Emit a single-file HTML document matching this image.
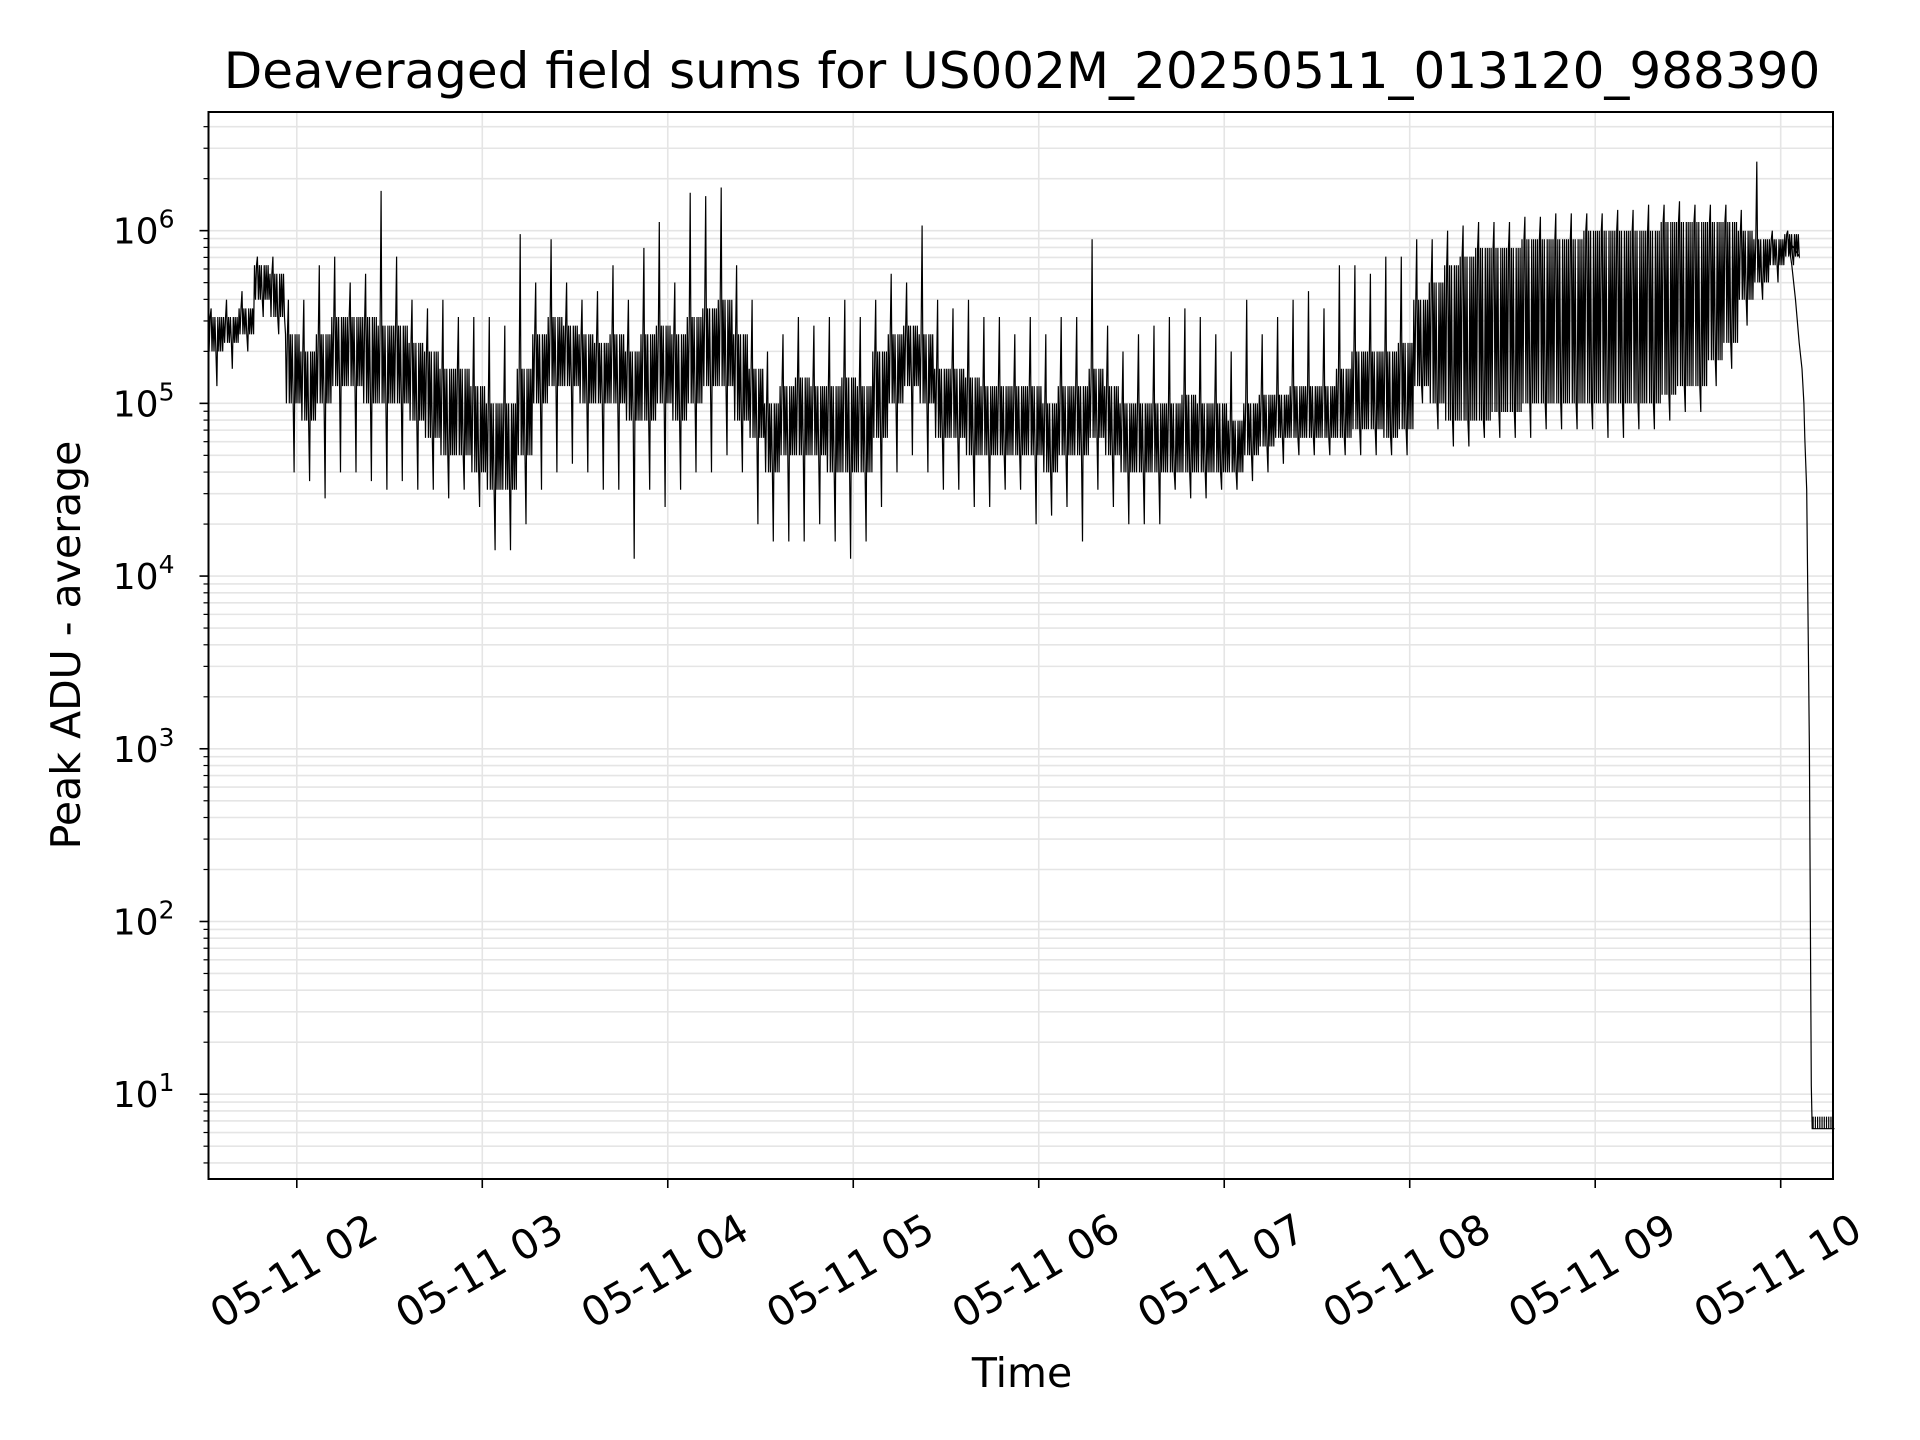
<!DOCTYPE html>
<html><head><meta charset="utf-8">
<style>html,body{margin:0;padding:0;background:#fff}svg{display:block}text{font-family:"DejaVu Sans","Liberation Sans",sans-serif;fill:#000}</style>
</head><body>
<svg id="chart" width="1920" height="1440" viewBox="0 0 1920 1440" xmlns="http://www.w3.org/2000/svg">
<rect x="0" y="0" width="1920" height="1440" fill="#fff"/>
<g id="grid"></g>
<g id="series"></g>
<rect x="208.5" y="112" width="1624.5" height="1067" fill="none" stroke="#000" stroke-width="2"/>
<g id="axes"></g>
<text x="1022" y="88" font-size="50" text-anchor="middle">Deaveraged field sums for US002M_20250511_013120_988390</text>
<text x="0" y="0" font-size="41" text-anchor="middle" transform="translate(80,645) rotate(-90)">Peak ADU - average</text>
<text x="1022" y="1387" font-size="41" text-anchor="middle">Time</text>
</svg>
<script>
// data (log10 values)
const binStart = 1.5222; // hours
const binHours = 1/12;
const spikeMax = [5.55,5.6,5.65,5.85,5.85,5.6,
5.6,5.8,5.85,5.7,5.75,6.23,5.85,5.6,5.55,5.6,5.5,5.5,
5.5,5.45,5.98,5.7,5.95,5.7,5.6,5.65,5.8,5.6,5.9,6.05,
5.7,6.22,6.2,6.25,5.8,5.6,5.3,5.4,5.5,5.45,5.5,5.6,
5.5,5.6,5.75,5.7,6.03,5.6,5.55,5.6,5.5,5.5,5.4,5.5,
5.4,5.5,5.5,5.95,5.45,5.3,5.4,5.45,5.5,5.55,5.5,5.4,
5.3,5.6,5.4,5.5,5.6,5.65,5.55,5.8,5.8,5.75,5.85,5.85,
5.95,5.95,6.0,6.03,6.05,6.05,6.05,6.08,6.08,6.1,6.1,6.1,
6.1,6.12,6.12,6.15,6.15,6.17,6.15,6.15,6.15,6.12,6.4,6.0,6.0];
const bandTop = [5.5,5.5,5.55,5.8,5.75,5.4,
5.3,5.4,5.5,5.5,5.5,5.45,5.45,5.35,5.3,5.2,5.2,5.1,
5.0,5.0,5.2,5.4,5.5,5.45,5.4,5.35,5.4,5.3,5.4,5.45,
5.4,5.5,5.55,5.6,5.4,5.2,5.0,5.1,5.15,5.1,5.1,5.15,
5.1,5.3,5.4,5.45,5.4,5.2,5.2,5.15,5.1,5.1,5.1,5.1,
5.0,5.1,5.1,5.2,5.1,5.0,5.0,5.0,5.0,5.05,5.0,5.0,
4.9,5.0,5.05,5.05,5.1,5.1,5.1,5.2,5.3,5.3,5.3,5.35,
5.6,5.7,5.8,5.85,5.9,5.9,5.9,5.95,5.95,5.95,5.95,6.0,
6.0,6.0,6.0,6.0,6.05,6.05,6.05,6.05,6.05,6.0,5.95,5.95,5.98];
const bandBottom = [5.3,5.35,5.4,5.6,5.5,5.0,
4.9,5.0,5.1,5.1,5.0,5.0,5.0,4.9,4.8,4.7,4.7,4.6,
4.5,4.5,4.7,5.0,5.1,5.1,5.0,5.0,5.0,4.9,4.9,5.0,
4.9,5.0,5.1,5.1,4.9,4.8,4.6,4.7,4.7,4.7,4.6,4.6,
4.6,4.8,5.0,5.1,5.0,4.8,4.8,4.7,4.7,4.7,4.7,4.7,
4.6,4.7,4.7,4.8,4.7,4.6,4.6,4.6,4.6,4.6,4.6,4.6,
4.6,4.7,4.75,4.8,4.8,4.8,4.8,4.8,4.85,4.85,4.8,4.85,
5.1,5.0,4.9,4.9,4.9,4.95,4.95,5.0,5.0,5.0,5.0,5.0,
5.0,5.0,5.0,5.0,5.05,5.1,5.1,5.25,5.35,5.6,5.7,5.8,5.85];
const spikeMin = [5.1,5.2,5.3,5.5,5.4,4.6,
4.55,4.45,4.6,4.6,4.55,4.5,4.55,4.5,4.5,4.45,4.5,4.4,
4.15,4.15,4.3,4.5,4.6,4.65,4.6,4.5,4.5,4.1,4.5,4.4,
4.5,4.6,4.6,4.7,4.6,4.3,4.2,4.2,4.2,4.3,4.2,4.1,
4.2,4.4,4.6,4.7,4.6,4.5,4.5,4.4,4.4,4.5,4.5,4.3,
4.35,4.4,4.2,4.5,4.4,4.3,4.3,4.3,4.5,4.45,4.45,4.5,
4.5,4.55,4.6,4.65,4.7,4.7,4.7,4.7,4.7,4.7,4.7,4.7,
5.0,4.85,4.75,4.75,4.8,4.8,4.8,4.8,4.85,4.85,4.85,4.85,
4.8,4.8,4.85,4.85,4.9,4.95,4.95,5.1,5.2,5.45,5.6,5.7,5.8];
const tailTimes = [10.04,10.06,10.08,10.1,10.115,10.125,10.13,10.14,10.155,10.165,10.17,10.29];
const tailValues = [5.95,5.8,5.6,5.35,5.2,5.0,4.8,4.5,3.0,1.05,0.8,0.8];
const xTickHours = [2,3,4,5,6,7,8,9,10];
const xTickLabels = ["05-11 02","05-11 03","05-11 04","05-11 05","05-11 06","05-11 07","05-11 08","05-11 09","05-11 10"];
const yTickExps = [1,2,3,4,5,6];

const L=208.5,R=1833,T=112,B=1179;
const X0=1.524, X1=10.282, YMIN=0.509, YMAX=6.687;
const xs=h=>L+(h-X0)/(X1-X0)*(R-L);
const ys=v=>B-(v-YMIN)/(YMAX-YMIN)*(B-T);
const NS="http://www.w3.org/2000/svg";
const grid=document.getElementById('grid'), axes=document.getElementById('axes'), series=document.getElementById('series');
function mk(tag,attrs,parent){const e=document.createElementNS(NS,tag);for(const k in attrs)e.setAttribute(k,attrs[k]);parent.appendChild(e);return e;}

for(let d=0; d<=6; d++){
  for(let m=1;m<=9;m++){
    const v=d+Math.log10(m);
    if(v<YMIN||v>YMAX) continue;
    const y=ys(v);
    const g=mk('line',{x1:L,x2:R,y1:y,y2:y,stroke:'#e5e5e5','stroke-width':1.6},grid);
    
    
    const t=mk('line',{x1:L,x2:L-(m===1?9:5),y1:y,y2:y,stroke:'#000','stroke-width':m===1?1.6:1.2},axes);
    
    
  }
}
yTickExps.forEach(e=>{
  const y=ys(e);
  const tx=mk('text',{x:L-34,y:y+13,'font-size':36,'text-anchor':'end'},axes);
  
  
  tx.appendChild(document.createTextNode('10'));
  const sp=mk('tspan',{dy:-16,'font-size':25},tx);
  sp.textContent=String(e);
});
xTickHours.forEach((h,i)=>{
  const x=xs(h);
  const g=mk('line',{x1:x,x2:x,y1:T,y2:B,stroke:'#e5e5e5','stroke-width':1.6},grid);
  
  
  const t=mk('line',{x1:x,x2:x,y1:B,y2:B+9,stroke:'#000','stroke-width':1.6},axes);
  
  
  const tx=mk('text',{x:0,y:14,'font-size':41,'text-anchor':'middle',transform:`translate(${x-3},${B+92}) rotate(-30)`},axes);
  
  
  tx.textContent=xTickLabels[i];
});
const pts=[];
const pattern=[0,1,0,'max',1,0,1,0,1,'min',0,1,0,1,0,1];
for(let i=0;i<spikeMax.length;i++){
  for(let k=0;k<pattern.length;k++){
    const h=binStart+(i+k/pattern.length)*binHours;
    const p=pattern[k];
    const v=p==='max'?spikeMax[i]:p==='min'?spikeMin[i]:(p===0?bandTop[i]:bandBottom[i]);
    pts.push([xs(h),ys(v)]);
  }
}
for(let i=0;i<tailTimes.length;i++) pts.push([xs(tailTimes[i]),ys(tailValues[i])]);
const line=mk('polyline',{points:pts.map(p=>p[0].toFixed(1)+','+p[1].toFixed(1)).join(' '),fill:'none',stroke:'#000','stroke-width':1.2,'stroke-linejoin':'miter'},series);


for(let h=10.175;h<10.28;h+=0.012){
  const x=xs(h);
  const s=mk('line',{x1:x,x2:x,y1:ys(0.8),y2:ys(0.87),stroke:'#000','stroke-width':1.2},series);
  
  
}
</script>
</body></html>
